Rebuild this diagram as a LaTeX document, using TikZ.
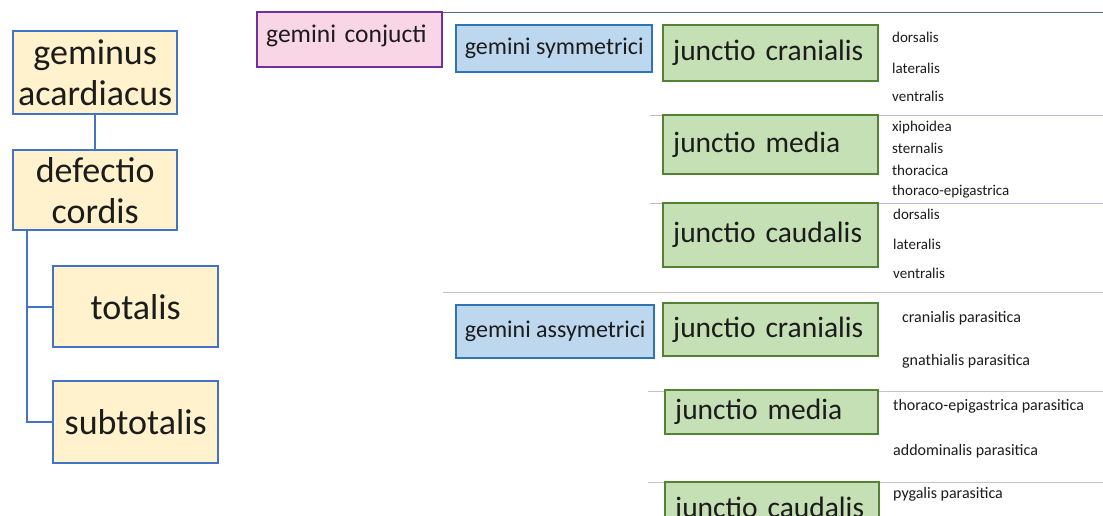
\documentclass[tikz,border=0pt]{standalone}
\usepackage{fontspec}
\setmainfont{Carlito}
\definecolor{ink}{HTML}{1C1C1C}
\definecolor{yfill}{HTML}{FFF2CC}
\definecolor{yedge}{HTML}{4472C4}
\definecolor{pfill}{HTML}{F9D6E6}
\definecolor{pedge}{HTML}{7030A0}
\definecolor{bfill}{HTML}{BDD7EE}
\definecolor{bedge}{HTML}{2E75B6}
\definecolor{gfill}{HTML}{C5E0B4}
\definecolor{gedge}{HTML}{548235}
\definecolor{topline}{HTML}{4F6F6C}
\definecolor{lavline}{HTML}{B8B8D8}
\definecolor{greyline}{HTML}{C4C4C4}
\tikzset{
  box/.style={draw, line width=2.4pt, inner sep=0pt, anchor=north west, text=ink},
  ybox/.style={box, draw=yedge, fill=yfill, align=center,
    font=\fontsize{36}{41}\selectfont},
  pbox/.style={box, draw=pedge, fill=pfill, font=\fontsize{25.5}{28}\selectfont},
  bbox/.style={box, draw=bedge, fill=bfill, font=\fontsize{24}{27}\selectfont},
  gbox/.style={box, draw=gedge, fill=gfill, align=left, inner xsep=10pt,
    text width=195pt, font=\fontsize{29.5}{33}\selectfont},
  link/.style={draw=yedge, line width=2.4pt},
  sub/.style={anchor=west, inner sep=0pt, text=ink, font=\fontsize{15}{17}\selectfont},
  subp/.style={sub, font=\fontsize{16}{18}\selectfont},
  sep/.style={line width=1pt}
}
\begin{document}
\begin{tikzpicture}[x=1pt,y=-1pt]
\useasboundingbox (0,0) rectangle (1103,515);
\fill[white] (0,0) rectangle (1103,515);

% separator rules of the classification table
\draw[topline, line width=1.4pt] (443,12.5) -- (1103,12.5);
\draw[lavline, sep] (650,115) -- (1103,115);
\draw[lavline, sep] (650,203) -- (1103,203);
\draw[greyline, sep] (443,292) -- (1103,292);
\draw[greyline, sep] (648,391) -- (1103,391);
\draw[greyline, sep] (648,482) -- (1103,482);

% left-hand tree: geminus acardiacus
\node[ybox, minimum width=164, minimum height=83] (ga) at (12,30) {geminus\\acardiacus};
\node[ybox, minimum width=164, minimum height=80] (dc) at (12,149) {defectio\\cordis};
\node[ybox, minimum width=165, minimum height=81] (tot) at (52,265) {totalis};
\node[ybox, minimum width=165, minimum height=82] (stot) at (52,380) {subtotalis};
\coordinate (trunk) at ([xshift=15pt]dc.south west);
\draw[link] (ga.south) -- (dc.north);
\draw[link] (trunk) |- (tot.west);
\draw[link] (trunk) |- (stot.west);

% gemini conjucti
\node[pbox, minimum width=185, text height=26, text depth=21, inner ysep=4,
      inner xsep=9pt, text width=167pt, align=left] (gc) at (256,11) {gemini conjucti};

% gemini symmetrici
\node[bbox, minimum width=196, minimum height=47] (gs) at (455,24) {gemini symmetrici};
\node[gbox, minimum height=56] (jc1) at (662,24) {junctio cranialis};
\node[gbox, minimum height=59] (jm1) at (662,114) {junctio media};
\node[gbox, minimum height=64] (jd1) at (662,202) {junctio caudalis};

\node[sub] (s1) at (892,37) {dorsalis};
\node[sub] (s2) at (892,68) {lateralis};
\node[sub] (s3) at (892,96) {ventralis};
\node[sub] (s4) at (892,127) {xiphoidea};
\node[sub] (s5) at (892,148) {sternalis};
\node[sub] (s6) at (892,170) {thoracica};
\node[sub] (s7) at (892,192) {thoraco-epigastrica};
\node[sub] (s8) at (893,214) {dorsalis};
\node[sub] (s9) at (893,244) {lateralis};
\node[sub] (s10) at (893,273) {ventralis};

% gemini assymetrici
\node[bbox, minimum width=198, minimum height=53] (gas) at (455,304) {gemini assymetrici};
\node[gbox, minimum height=53] (jc2) at (662,302) {junctio cranialis};
\node[gbox, minimum height=44, text width=193pt] (jm2) at (664,389) {junctio media};
\node[gbox, minimum height=56, text width=194pt] (jd2) at (664,481) {junctio caudalis};

\node[subp] (t1) at (902,318) {cranialis parasitica};
\node[subp] (t2) at (902,361) {gnathialis parasitica};
\node[subp] (t3) at (893,406) {thoraco-epigastrica parasitica};
\node[subp] (t4) at (893,451) {addominalis parasitica};
\node[subp] (t5) at (893,494) {pygalis parasitica};
\end{tikzpicture}
\end{document}
